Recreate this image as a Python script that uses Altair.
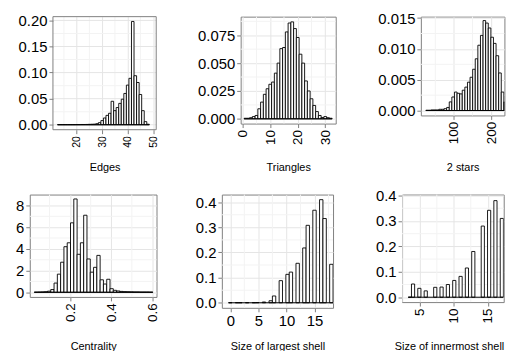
import altair as alt
import pandas as pd

FONT = "Liberation Sans"
FRAME = "#7f7f7f"
GRID_MAJOR = "#e5e5e5"
GRID_MINOR = "#f3f3f3"

# ---------------- data (density histograms) ----------------
edges_center = list(range(13, 49))
edges_density = [0.0003, 0.0003, 0.0003, 0.0003, 0.0003, 0.0003, 0.0003, 0.0004,
                 0.0004, 0.0005, 0.0005, 0.0006, 0.0008, 0.001, 0.0012,
                 0.002, 0.004, 0.008, 0.013, 0.018, 0.022, 0.045, 0.027, 0.033,
                 0.041, 0.049, 0.060, 0.076, 0.089, 0.198, 0.094, 0.081, 0.058,
                 0.027, 0.006, 0.001]

tri_center = list(range(1, 33))
tri_density = [0.0005, 0.0005, 0.001, 0.002, 0.003, 0.009, 0.015, 0.022, 0.027,
               0.031, 0.033, 0.041, 0.050, 0.063, 0.064, 0.078, 0.086, 0.087,
               0.081, 0.073, 0.058, 0.050, 0.034, 0.025, 0.018, 0.012, 0.0065,
               0.003, 0.0012, 0.002, 0.001, 0.0005]

stars_center = [28, 35, 42, 49, 56, 63, 70, 77, 84, 91, 98, 105, 112, 119, 126,
                133, 140, 147, 154, 161, 168, 175, 182, 189, 196, 203, 210, 217,
                224, 231, 238, 245, 252, 259]
stars_density = [0.00005, 0.00005, 0.0001, 0.0001, 0.0001, 0.0002, 0.0002, 0.0003,
                 0.0005, 0.0014, 0.0022, 0.0030, 0.0028, 0.0027, 0.0033, 0.0038,
                 0.0046, 0.0054, 0.0067, 0.0084, 0.0106, 0.0122, 0.0146, 0.0142,
                 0.0134, 0.0119, 0.0109, 0.0089, 0.0061, 0.0030, 0.0014, 0.0006,
                 0.0003, 0.0001]

cent_center = [0.034, 0.050, 0.066, 0.082, 0.098, 0.114, 0.130, 0.146, 0.162,
               0.178, 0.194, 0.210, 0.226, 0.242, 0.258, 0.274, 0.290, 0.306,
               0.322, 0.338, 0.354, 0.370, 0.386, 0.402, 0.418, 0.434, 0.450,
               0.466, 0.482, 0.498, 0.514, 0.530, 0.546, 0.562, 0.578, 0.594]
cent_density = [0.01, 0.02, 0.03, 0.05, 0.1, 0.25, 0.85, 1.67, 2.77, 4.2, 4.56,
                6.4, 8.6, 3.5, 4.56, 7.1, 3.07, 1.85, 2.3, 3.4, 1.15, 0.76, 1.2,
                0.33, 0.18, 0.12, 0.08, 0.06, 0.05, 0.04, 0.03, 0.03, 0.02, 0.02,
                0.02, 0.01]

largest_center = [0, 1.2, 1.8, 3, 4.2, 4.8, 6, 7.2, 7.8, 9, 10.2, 10.8, 12, 13.2,
                  13.8, 15, 16.2, 16.8, 18]
largest_density = [0.0005, 0.0005, 0.0005, 0.0005, 0.0005, 0.001, 0.003, 0.008,
                   0.027, 0.088, 0.113, 0.122, 0.157, 0.218, 0.308, 0.368, 0.41,
                   0.335, 0.153]

inner_center = [3.53, 4.0, 4.93, 5.87, 7.27, 8.2, 9.13, 10.07, 11.0, 11.93, 12.87,
                14.27, 15.2, 16.13, 17.07, 18.0]
inner_density = [0, 0.052, 0.035, 0.025, 0.039, 0.040, 0.050, 0.066, 0.082, 0.115,
                 0.180, 0.280, 0.342, 0.380, 0.310, 0.143]


def make_panel(centers, dens, binw, title, xdom, ydom, width, height,
               xmaj, xmin, ymaj, ymin, xfmt, yfmt, yext, xext,
               xangle, xsize, title_anchor="middle", inset=0.0):
    """inset > 0: the panel frame starts `inset` px right of the view's left edge."""
    df = pd.DataFrame({"center": centers, "density": dens})
    df["left"] = df["center"] - binw / 2
    df["right"] = df["center"] + binw / 2
    df = df[df["left"] < xdom[1]].copy()
    df["right"] = df["right"].clip(upper=xdom[1])
    base = pd.DataFrame({"left": [df["left"].min()], "right": [df["right"].max()]})
    xminor = pd.DataFrame({"v": xmin})
    yminor = pd.DataFrame({"v": ymin})
    ymajor = pd.DataFrame({"v": ymaj})

    xlo = xdom[0] - inset * (xdom[1] - xdom[0]) / (width - inset) if inset else xdom[0]

    common = dict(domain=False, tickSize=4, tickWidth=1, tickColor=FRAME,
                  labelFont=FONT, labelColor="black", labelOverlap=False,
                  labelFlush=False, labelPadding=2, gridWidth=1,
                  gridColor=GRID_MAJOR, tickCount=50)
    if xangle == 0:
        lab = dict(labelAngle=0, labelAlign="center", labelBaseline="top")
    else:
        lab = dict(labelAngle=270, labelAlign="right", labelBaseline="middle")
    title_pos = {}
    if inset:
        title_pos = dict(titleX=inset + (width - inset) / 2, titleAlign="center")
    xaxis = alt.Axis(
        values=xmaj, format=xfmt, labelFontSize=xsize, title=title,
        titleFont=FONT, titleFontSize=11, titleFontWeight="normal",
        titleColor="black", titlePadding=0, titleAnchor=title_anchor,
        minExtent=xext, maxExtent=xext, **title_pos, **lab, **common)
    if inset:
        yaxis = alt.Axis(values=ymaj, format=yfmt, labelFontSize=15, title=None,
                         grid=False, offset=-inset, minExtent=0, maxExtent=0,
                         **common)
    else:
        yaxis = alt.Axis(values=ymaj, format=yfmt, labelFontSize=15, title=None,
                         minExtent=yext, maxExtent=yext, **common)
    xs = alt.Scale(domain=[xlo, xdom[1]], nice=False, zero=False)
    ys = alt.Scale(domain=ydom, nice=False, zero=False)
    X = lambda f: alt.X(f, scale=xs, axis=xaxis)
    Y = lambda f: alt.Y(f, scale=ys, axis=yaxis)

    layers = [alt.Chart(xminor).mark_rule(color=GRID_MINOR, strokeWidth=1).encode(
        x=X("v:Q"))]
    if inset:
        for frame_df, col in ((yminor, GRID_MINOR), (ymajor, GRID_MAJOR)):
            layers.append(alt.Chart(frame_df).mark_rule(color=col, strokeWidth=1).encode(
                y=Y("v:Q"), x=alt.datum(xdom[0]), x2=alt.datum(xdom[1])))
    else:
        layers.append(alt.Chart(yminor).mark_rule(color=GRID_MINOR, strokeWidth=1).encode(
            y=Y("v:Q")))
    layers.append(alt.Chart(df).mark_rect(fill="white", stroke="black", strokeWidth=0.9,
                                          clip=True).encode(
        x=X("left:Q"), x2="right:Q", y=Y("density:Q"), y2=alt.datum(0)))
    layers.append(alt.Chart(base).mark_rule(color="black", strokeWidth=1, clip=True).encode(
        x=X("left:Q"), x2="right:Q", y=alt.datum(0)))
    if inset:
        layers.append(alt.Chart(base).mark_rect(fill="transparent", stroke=FRAME,
                                                strokeWidth=1).encode(
            x=alt.datum(xdom[0]), x2=alt.datum(xdom[1]),
            y=alt.datum(ydom[0]), y2=alt.datum(ydom[1])))
    ch = alt.layer(*layers).properties(width=width, height=height)
    if inset:
        ch = ch.properties(view=alt.ViewBackground(strokeOpacity=0, fill="transparent"))
    return ch


p1 = make_panel(edges_center, edges_density, 1, "Edges", [10.7, 51.2], [-0.0095, 0.2072],
                127.7, 114.2, [20, 30, 40, 50], [15, 25, 35, 45],
                [0.0, 0.05, 0.1, 0.15, 0.2], [0.025, 0.075, 0.125, 0.175],
                "d", ".2f", 0, 32.6, 270, 10.5, inset=23.4)
p2 = make_panel(tri_center, tri_density, 1, "Triangles", [-0.75, 33.8], [-0.00427, 0.0917],
                96, 108, [0, 10, 20, 30], [5, 15, 25],
                [0.0, 0.025, 0.05, 0.075], [0.0125, 0.0375, 0.0625, 0.0875],
                "d", ".3f", 81.2, 38.8, 270, 13.5)
p3 = make_panel(stars_center, stars_density, 7, "2 stars", [11, 236], [-0.0008, 0.01524],
                84.4, 99.8, [100, 200], [50, 150],
                [0.0, 0.005, 0.01, 0.015], [0.0025, 0.0075, 0.0125],
                "d", ".3f", 83.8, 47, 270, 13.5)
p4 = make_panel(cent_center, cent_density, 0.016, "Centrality", [0.004, 0.62], [-0.43, 9.005],
                128, 103.4, [0.2, 0.4, 0.6], [0.1, 0.3, 0.5],
                [0, 2, 4, 6, 8], [1, 3, 5, 7],
                ".1f", "d", 21.3, 43.9, 270, 13.5)
p5 = make_panel(largest_center, largest_density, 0.6, "Size of largest shell", [-1.5, 18.3],
                [-0.0201, 0.4303], 112.3, 114.4, [0, 5, 10, 15], [2.5, 7.5, 12.5, 17.5],
                [0.0, 0.1, 0.2, 0.3, 0.4], [0.05, 0.15, 0.25, 0.35],
                "d", ".1f", 62.4, 32.9, 0, 15)
p6 = make_panel(inner_center, inner_density, 0.467, "Size of innermost shell", [2.38, 17.35],
                [-0.0191, 0.4039], 102.7, 108.6, [5, 10, 15], [2.5, 7.5, 12.5],
                [0.0, 0.1, 0.2, 0.3, 0.4], [0.05, 0.15, 0.25, 0.35],
                "d", ".1f", 67.2, 38.7, 270, 13.5, title_anchor="end")

row1 = alt.hconcat(p1, p2, p3, spacing=0)
row2 = alt.hconcat(p4, p5, p6, spacing=0)
chart = (
    alt.vconcat(row1, row2, spacing=13.7)
    .properties(padding=0)
    .configure_view(stroke=FRAME, strokeWidth=1, fill="white")
)

chart.save("out.html", embed_options={"renderer": "svg", "actions": False})
